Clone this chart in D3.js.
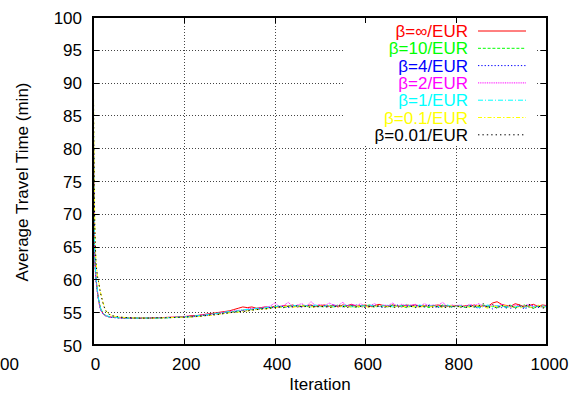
<!DOCTYPE html>
<html>
<head>
<meta charset="utf-8">
<script src="https://cdn.jsdelivr.net/npm/d3@7"></script>
<style>
  html, body { margin: 0; padding: 0; background: #fff; }
  svg { display: block; font-family: "Liberation Sans", Arial, Helvetica, sans-serif; }
</style>
</head>
<body>
<svg id="chart" width="576" height="399"></svg>
<script>
// Iteration numbers shared by every series
const iterations = [0,1,2,3,4,5,6,7,8,10,12,14,16,18,22,26,30,35,40,50,60,80,100,120,140,160,180,200,
  210,220,230,240,250,260,270,280,290,300,310,320,330,340,350,360,370,380,390,400,
  410,420,430,440,450,460,470,480,490,500,510,520,530,540,550,560,570,580,590,600,
  610,620,630,640,650,660,670,680,690,700,710,720,730,740,750,760,770,780,790,800,
  810,820,830,840,850,860,870,880,890,900,910,920,930,940,950,960,970,980,990,1000];

// Average travel time (min) per iteration, one array per beta value
const betaInf = [100,83,72,66.5,63.5,61.8,60.7,59.9,59.2,58.0,57.0,56.3,55.7,55.3,54.8,54.55,54.4,54.3,54.25,54.2,54.15,54.1,54.1,54.1,54.15,54.2,54.25,54.3,
  54.4,54.5,54.5,54.6,54.7,54.8,54.9,55.0,55.1,55.2,
  55.4,55.6,55.8,55.7,55.8,55.6,55.7,55.8,55.7,55.9,
  55.8,56.0,55.9,56.1,55.8,55.9,56.0,56.1,55.9,56.0,
  56.1,55.9,56.0,55.8,56.1,56.0,56.2,55.9,56.0,56.1,
  55.9,56.0,56.2,56.0,55.9,56.1,56.0,55.8,56.1,56.0,
  56.1,55.9,56.0,55.8,56.0,56.1,55.9,56.0,55.9,56.0,
  55.8,56.0,55.9,56.1,55.8,56.0,55.9,56.4,56.6,56.2,
  56.0,55.9,56.3,56.1,55.8,56.0,56.2,55.9,56.1,56.0];
const beta10 = [100,84,73,67,63.8,62.0,60.8,60.0,59.3,58.1,57.1,56.4,55.8,55.4,54.85,54.6,54.45,54.3,54.25,54.2,54.15,54.1,54.1,54.1,54.1,54.15,54.2,54.3,
  54.3,54.4,54.4,54.5,54.6,54.7,54.8,54.8,54.9,55.0,
  55.1,55.2,55.3,55.4,55.4,55.5,55.6,55.6,55.7,55.8,
  55.9,55.7,55.9,56.0,55.8,56.1,55.9,55.8,56.0,55.9,
  55.8,56.0,55.9,56.1,55.8,55.9,56.0,55.7,55.9,56.0,
  56.1,55.8,55.9,56.0,55.8,56.1,55.9,56.0,55.7,55.9,
  55.8,56.0,55.9,55.7,56.0,55.8,56.1,55.9,55.8,56.0,
  55.9,55.7,56.0,55.8,55.9,56.1,55.8,55.9,55.7,56.0,
  55.8,56.0,55.7,55.9,56.1,55.8,55.6,55.9,55.8,55.7];
const beta4 = [100,82,71,66,63.2,61.5,60.4,59.6,59.0,57.8,56.9,56.2,55.6,55.2,54.75,54.5,54.4,54.3,54.2,54.15,54.1,54.1,54.05,54.1,54.1,54.15,54.2,54.25,
  54.3,54.3,54.4,54.5,54.5,54.6,54.7,54.8,54.9,55.0,
  55.0,55.1,55.2,55.3,55.4,55.5,55.5,55.6,55.7,55.7,
  55.8,55.9,55.7,55.9,56.0,55.8,55.9,56.0,55.8,55.9,
  56.0,55.8,56.1,55.9,55.8,56.0,55.9,56.1,55.8,55.9,
  55.8,56.0,55.9,55.7,56.0,55.9,56.1,55.8,56.0,55.9,
  56.0,55.8,55.9,56.1,55.9,55.7,56.0,55.9,55.8,56.0,
  55.7,55.9,56.0,55.8,55.6,55.9,55.8,55.5,55.9,55.7,
  55.9,55.6,55.8,55.9,55.5,55.8,56.0,55.7,55.9,55.8];
const beta2 = [100,83,71.5,66,63.3,61.6,60.5,59.7,59.1,57.9,57.0,56.2,55.6,55.2,54.8,54.5,54.4,54.3,54.2,54.2,54.15,54.1,54.1,54.1,54.15,54.2,54.25,54.35,
  54.4,54.4,54.5,54.6,54.7,54.7,54.8,54.9,55.0,55.1,
  55.2,55.3,55.3,55.5,55.6,55.5,55.7,55.8,55.9,56.4,
  55.9,56.0,56.5,55.9,56.1,56.3,55.9,56.6,56.0,56.2,
  55.9,56.4,56.1,56.0,56.5,55.9,56.2,56.0,56.3,55.8,
  56.0,56.3,55.9,56.1,56.0,56.4,55.9,56.2,56.0,56.1,
  56.2,55.9,56.3,56.0,56.1,56.0,56.5,55.9,56.1,56.0,
  56.1,55.9,56.2,56.0,56.3,55.9,56.0,56.1,55.9,56.2,
  56.0,55.8,56.1,55.9,56.0,56.2,55.9,56.0,55.8,56.1];
const beta1 = [100,84,72.5,67,63.8,62.0,60.9,60.1,59.4,58.2,57.2,56.4,55.8,55.4,54.9,54.6,54.45,54.35,54.25,54.2,54.15,54.1,54.1,54.1,54.1,54.15,54.2,54.3,
  54.3,54.4,54.5,54.5,54.6,54.7,54.8,54.9,55.0,55.1,
  55.1,55.2,55.4,55.4,55.5,55.6,55.6,55.7,55.8,55.8,
  56.0,55.8,55.9,56.1,55.9,55.8,56.0,55.9,56.1,55.8,
  55.9,56.1,55.8,56.0,55.9,56.2,55.8,55.9,56.0,55.9,
  56.1,55.9,55.8,56.0,56.1,55.8,56.0,55.9,56.2,55.9,
  55.9,56.1,55.8,55.9,56.0,55.9,55.8,56.1,55.9,55.8,
  56.0,55.8,55.9,56.0,55.7,55.9,56.1,55.8,56.0,55.9,
  55.7,56.0,55.8,55.9,55.7,56.1,55.8,55.9,56.0,55.8];
const beta01 = [100,90,80,73,68.5,65.5,63.8,62.6,61.8,60.6,59.9,59.0,58.2,57.6,56.5,55.6,55.1,54.75,54.55,54.35,54.25,54.15,54.1,54.1,54.1,54.15,54.2,54.25,
  54.2,54.3,54.3,54.4,54.5,54.5,54.6,54.7,54.8,54.9,
  55.0,55.0,55.1,55.2,55.3,55.4,55.4,55.5,55.6,55.7,
  55.7,55.8,55.9,55.7,55.9,56.0,55.8,55.9,55.7,56.0,
  55.8,55.9,55.7,56.0,55.8,55.9,55.7,56.0,55.8,55.9,
  55.7,55.9,56.0,55.8,55.9,55.7,56.0,55.8,55.9,55.8,
  55.9,55.7,56.0,55.8,55.9,56.0,55.7,55.8,56.0,55.9,
  55.8,56.0,55.7,55.9,56.0,55.8,55.6,56.0,55.8,55.9,
  56.1,55.7,55.9,55.6,56.0,55.8,55.7,56.1,55.8,55.9];
const beta001 = [100,89,79,72,68,65.2,63.5,62.3,61.5,60.4,59.7,58.9,58.1,57.5,56.4,55.5,55.0,54.7,54.5,54.35,54.25,54.15,54.1,54.1,54.15,54.15,54.2,54.25,
  54.3,54.3,54.4,54.4,54.5,54.6,54.6,54.7,54.8,54.9,
  55.0,55.1,55.1,55.2,55.3,55.4,55.5,55.5,55.6,55.7,
  55.8,55.7,55.9,55.8,56.0,55.8,55.9,55.7,55.9,55.8,
  55.9,55.7,55.8,56.0,55.9,55.7,56.0,55.8,55.9,55.7,
  55.9,55.8,56.0,55.7,55.9,55.8,55.7,56.0,55.8,55.9,
  55.7,55.9,55.8,56.0,55.7,55.9,55.8,55.7,55.9,55.8,
  56.0,55.7,55.9,55.8,56.0,56.3,55.6,56.2,55.5,56.1,
  55.6,56.2,55.5,56.1,55.7,56.3,55.5,56.0,55.6,55.8];

const seriesLabels = ["β=∞/EUR", "β=10/EUR", "β=4/EUR", "β=2/EUR", "β=1/EUR", "β=0.1/EUR", "β=0.01/EUR"];
const seriesValues = [betaInf, beta10, beta4, beta2, beta1, beta01, beta001];
const xTicks = [0, 200, 400, 600, 800, 1000];
const yTicks = [50, 55, 60, 65, 70, 75, 80, 85, 90, 95, 100];

// Line appearance, one entry per series
const colors = ["#ff0000", "#00ff00", "#0000ff", "#ff00ff", "#00ffff", "#ffff00", "#000000"];
const dashes = [null, "3,1.8", "1.3,2", "1,0.8", "5,2,1,2", "4,2,1.5,2", "1.4,3"];

(function draw() {
  const svg = d3.select("#chart");
  const pL = 93, pR = 547, pT = 17, pB = 345;

  const x = d3.scaleLinear().domain([0, 1000]).range([pL, pR]);
  const y = d3.scaleLinear().domain([50, 100]).range([pB, pT]);
  const fmt = d3.format("d");

  // dotted grid
  const grid = svg.append("g");
  grid.append("g")
    .attr("transform", `translate(0,${pB})`)
    .call(d3.axisBottom(x).tickValues(xTicks.filter(v => v > 0 && v < 1000)).tickSize(-(pB - pT)).tickFormat(""))
    .call(g => g.select(".domain").remove());
  grid.append("g")
    .attr("transform", `translate(${pL},0)`)
    .call(d3.axisLeft(y).tickValues(yTicks.filter(v => v > 50 && v < 100)).tickSize(-(pR - pL)).tickFormat(""))
    .call(g => g.select(".domain").remove());
  grid.selectAll("line")
    .attr("stroke", "#444")
    .attr("stroke-width", 1)
    .attr("stroke-dasharray", "1,2")
    .attr("shape-rendering", "crispEdges");

  // key area is kept clear of grid lines
  svg.append("rect")
    .attr("x", 343).attr("y", pT + 1)
    .attr("width", 537 - 343).attr("height", 144 - pT)
    .attr("fill", "#fff");

  // series lines
  const line = d3.line()
    .x((d, i) => x(iterations[i]))
    .y(d => y(d));

  const plot = svg.append("g");
  seriesValues.forEach((vals, k) => {
    plot.append("path")
      .datum(vals)
      .attr("fill", "none")
      .attr("stroke", colors[k])
      .attr("stroke-width", 1)
      .attr("stroke-dasharray", dashes[k])
      .attr("d", line);
  });

  // border with inward ticks on all sides
  const fontSize = 17;
  const axB = svg.append("g").attr("transform", `translate(0,${pB})`)
    .call(d3.axisBottom(x).tickValues(xTicks).tickFormat(fmt).tickSize(-6).tickPadding(0).tickSizeOuter(0));
  axB.selectAll("text")
    .attr("y", 25).attr("dy", null).attr("dx", 2);
  const axT = svg.append("g").attr("transform", `translate(0,${pT})`)
    .call(d3.axisTop(x).tickValues(xTicks).tickSize(-6).tickFormat("").tickSizeOuter(0));
  const axL = svg.append("g").attr("transform", `translate(${pL},0)`)
    .call(d3.axisLeft(y).tickValues(yTicks).tickFormat(fmt).tickSize(-6).tickPadding(0).tickSizeOuter(0));
  axL.selectAll("text")
    .attr("x", -11).attr("dy", "0.36em");
  const axR = svg.append("g").attr("transform", `translate(${pR},0)`)
    .call(d3.axisRight(y).tickValues(yTicks).tickSize(-6).tickFormat("").tickSizeOuter(0));

  [axB, axT, axL, axR].forEach(g => {
    g.select(".domain").remove();
    g.selectAll("line").attr("stroke", "#000").attr("stroke-width", 1).attr("shape-rendering", "crispEdges");
    g.selectAll("text")
      .attr("fill", "#000")
      .style("font-size", fontSize + "px")
      .style("font-family", "'Liberation Sans', Arial, Helvetica, sans-serif");
  });

  svg.append("rect")
    .attr("x", pL).attr("y", pT)
    .attr("width", pR - pL).attr("height", pB - pT)
    .attr("fill", "none").attr("stroke", "#000").attr("stroke-width", 1.3)
    .attr("shape-rendering", "crispEdges");

  // trailing digits of the neighbouring panel's last tick label at the left edge
  svg.append("text")
    .attr("x", 0).attr("y", 370)
    .attr("text-anchor", "start")
    .style("font-size", fontSize + "px")
    .text("00");

  // axis titles
  svg.append("text")
    .attr("x", 320).attr("y", 390)
    .attr("text-anchor", "middle")
    .style("font-size", fontSize + "px")
    .text("Iteration");
  svg.append("text")
    .attr("transform", "translate(28,182) rotate(-90)")
    .attr("text-anchor", "middle")
    .style("font-size", fontSize + "px")
    .text("Average Travel Time (min)");

  // key
  const key = svg.append("g");
  seriesLabels.forEach((lab, k) => {
    const cy = 31 + k * 17.3;
    key.append("text")
      .attr("x", 468).attr("y", cy + 6)
      .attr("text-anchor", "end")
      .attr("fill", colors[k])
      .style("font-size", fontSize + "px")
      .text(lab);
    key.append("line")
      .attr("x1", 478).attr("x2", 526)
      .attr("y1", cy).attr("y2", cy)
      .attr("stroke", colors[k])
      .attr("stroke-width", 1)
      .attr("stroke-dasharray", dashes[k]);
  });
})();
</script>
</body>
</html>
